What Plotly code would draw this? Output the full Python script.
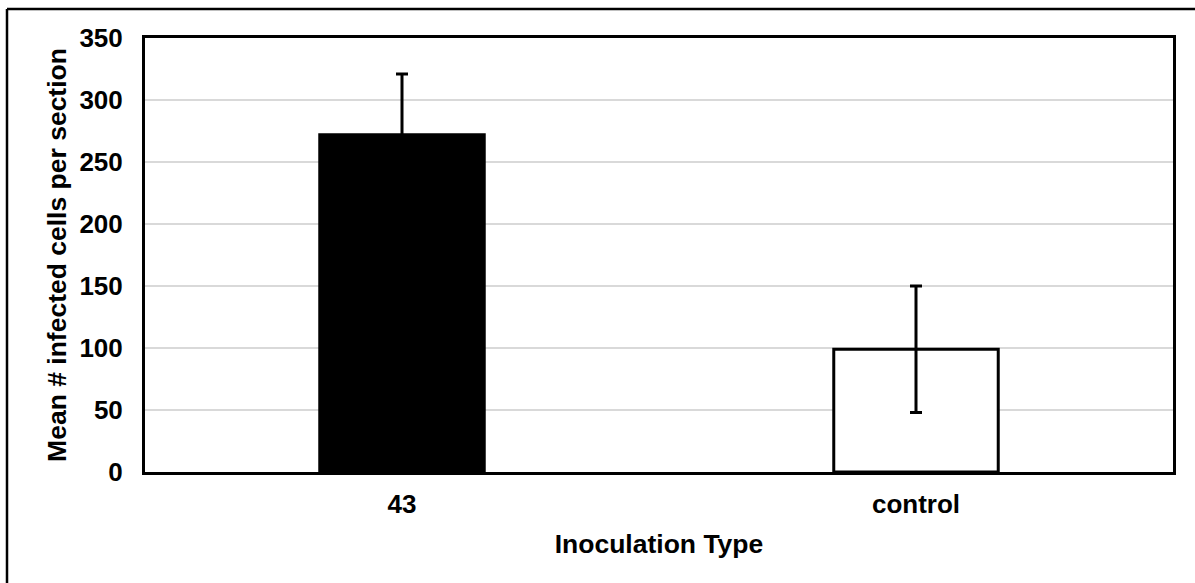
import plotly.graph_objects as go

# Mean infected cells per section by inoculation type, with error (SD)
categories = ["43", "control"]
means = [272, 99]
errors = [49, 51]
bar_fills = ["#000000", "#ffffff"]
y_ticks = [0, 50, 100, 150, 200, 250, 300, 350]

FONT = "Arial, Liberation Sans, sans-serif"

fig = go.Figure(
    go.Bar(
        x=categories,
        y=means,
        width=0.32,
        marker=dict(color=bar_fills, line=dict(color="#000000", width=3)),
        error_y=dict(type="data", array=errors, visible=True,
                     color="#000000", thickness=3, width=6),
    )
)

W, H = 1195, 583
L, R, T, B = 145, 22, 38, 111
pw, ph = W - L - R, H - T - B

# outer frame (top and left edges of the figure box)
fx = (7 - L) / pw
fy_top = (H - B - 9) / ph
fig.add_shape(type="line", xref="paper", yref="paper",
              x0=fx, x1=(W + 10 - L) / pw, y0=fy_top, y1=fy_top,
              line=dict(color="#000000", width=2.5))
fig.add_shape(type="line", xref="paper", yref="paper",
              x0=fx, x1=fx, y0=fy_top, y1=(H - B - H - 10) / ph,
              line=dict(color="#000000", width=2.5))

fig.update_layout(
    width=W, height=H,
    margin=dict(l=L, r=R, t=T, b=B),
    paper_bgcolor="#ffffff",
    plot_bgcolor="#ffffff",
    showlegend=False,
    font=dict(family=FONT, color="#000000"),
    xaxis=dict(
        showline=True, linecolor="#000000", linewidth=3, mirror=True,
        showgrid=False, ticks="",
        ticklabelstandoff=7,
        tickfont=dict(family=FONT, size=26, weight="bold"),
        title=dict(text="Inoculation Type",
                   font=dict(family=FONT, size=26.5, weight="bold"),
                   standoff=17),
    ),
    yaxis=dict(
        range=[0, 350], tickvals=y_ticks,
        showline=True, linecolor="#000000", linewidth=3, mirror=True,
        showgrid=True, gridcolor="#d9d9d9", gridwidth=2,
        zeroline=False, ticks="",
        ticklabelstandoff=14,
        tickfont=dict(family=FONT, size=26, weight="bold"),
        title=dict(text="Mean # infected cells per section",
                   font=dict(family=FONT, size=26.5, weight="bold"),
                   standoff=6),
    ),
)

fig.write_html("out.html")
